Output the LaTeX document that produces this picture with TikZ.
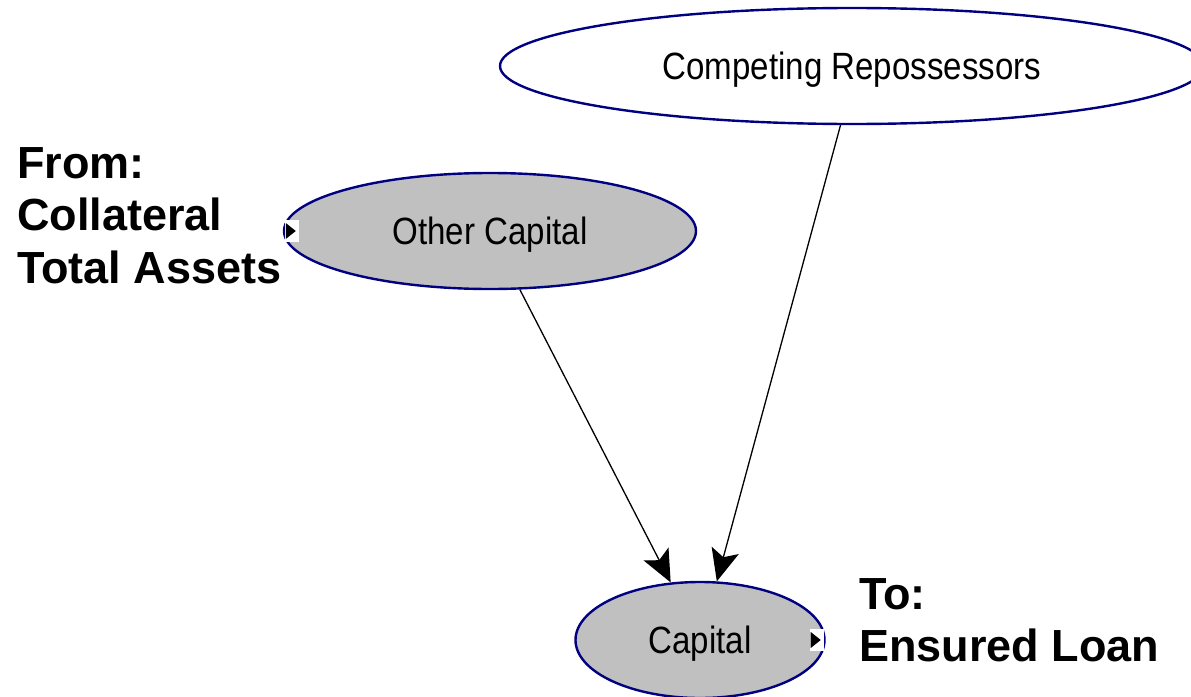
\documentclass[tikz,border=0pt]{standalone}
\usepackage{fontspec}
\setmainfont{Liberation Sans}
\newfontfamily\varfont[FakeStretch=0.87]{Liberation Sans}
\usetikzlibrary{shapes.geometric,arrows.meta}
\definecolor{navy}{RGB}{0,0,128}
\definecolor{silver}{RGB}{192,192,192}
\begin{document}
\begin{tikzpicture}[x=1pt,y=-1pt,
  var/.style={ellipse, draw=navy, line width=2.4pt, inner sep=0pt,
    text height=27pt, text depth=0pt,
    font=\varfont\fontsize{38}{40}\selectfont},
  link/.style={draw=black, line width=1.3pt,
    -{Stealth[length=32pt,width=28pt,inset=7pt]}},
  flowlabel/.style={anchor=north west, align=left, inner sep=0pt,
    font=\bfseries\fontsize{45}{52.5}\selectfont}]
\useasboundingbox (0,0) rectangle (1191,696);
\clip (0,0) rectangle (1191,696);

% variables
\node[var, fill=white, minimum width=704pt, minimum height=116pt] (rep) at (852,66) {Competing Repossessors};
\node[var, fill=silver, minimum width=412pt, minimum height=116pt] (other) at (490,231) {Other Capital};
\node[var, fill=silver, minimum width=249pt, minimum height=116pt] (cap) at (700,640) {Capital};

% influences
\draw[link] (other.-63) -- (cap.117);
\draw[link] (rep.-101.5) -- (cap.74.7);

% ports for the external flows
\fill[white] ([shift={(2pt,-11pt)}]other.west) rectangle ++(14pt,22pt);
\fill[black] ([shift={(3pt,-8pt)}]other.west) -- ++(0,16pt) -- ++(10pt,-8pt) -- cycle;
\fill[white] ([shift={(-16pt,-11pt)}]cap.east) rectangle ++(14pt,22pt);
\fill[black] ([shift={(-15pt,-8pt)}]cap.east) -- ++(0,16pt) -- ++(10pt,-8pt) -- cycle;

% external flow labels
\node[flowlabel] (from) at (17,147) {From:\\Collateral\\Total Assets};
\node[flowlabel] (to) at (859,578) {To:\\Ensured Loan};
\end{tikzpicture}
\end{document}
